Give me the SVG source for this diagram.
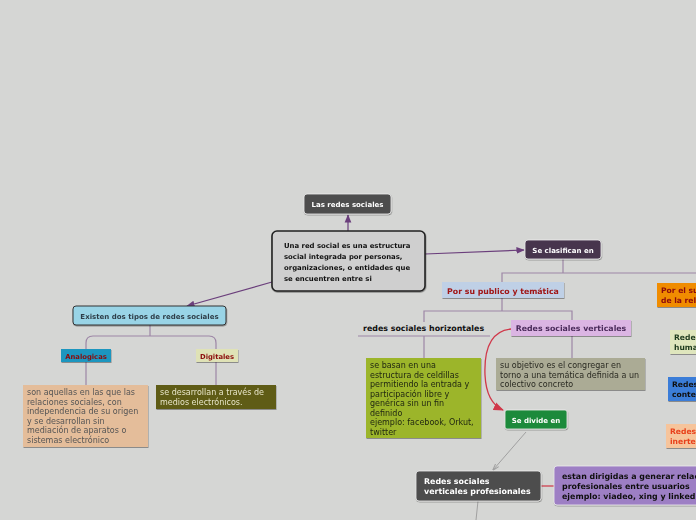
<svg xmlns="http://www.w3.org/2000/svg" width="696" height="520" viewBox="0 0 696 520">
<defs>
<style>
text{font-family:"DejaVu Sans","Liberation Sans",sans-serif}
.b{font-weight:bold}
.c{text-anchor:middle}
.d{font-size:8px}
.ln{fill:none;stroke:#9d86a6;stroke-width:1.2}
.pl{fill:none;stroke:#6b3f7c;stroke-width:1.2}
.sh{filter:url(#sh)}
</style>
<filter id="sh" x="-10%" y="-10%" width="120%" height="130%"><feDropShadow dx="0.5" dy="1" stdDeviation="0.6" flood-color="#000" flood-opacity="0.35"/></filter>
<marker id="ap" viewBox="0 0 10 10" refX="9" refY="5" markerWidth="7" markerHeight="7" orient="auto"><path d="M0,1 L10,5 L0,9 z" fill="#6b3f7c"/></marker>
<marker id="ar" viewBox="0 0 10 10" refX="9" refY="5" markerWidth="8" markerHeight="8" orient="auto"><path d="M0,1 L10,5 L0,9 z" fill="#d0384a"/></marker>
<marker id="ag" viewBox="0 0 10 10" refX="9" refY="5" markerWidth="7" markerHeight="7" orient="auto"><path d="M0,2 L10,5 L0,8" fill="none" stroke="#a0a0a0" stroke-width="1.5"/></marker>
</defs>
<rect width="696" height="520" fill="#d5d6d4"/>
<g id="connectors">
<path class="pl" d="M348,231 L348,215" marker-end="url(#ap)"/>
<path class="pl" d="M425,254 L524,250" marker-end="url(#ap)"/>
<path class="pl" d="M272,282 L187,306" marker-end="url(#ap)"/>
<path class="ln" d="M563,259 V273 M502,282 V273 H696"/>
<path class="ln" d="M150,325 V336 M86,349 V343 Q86,336 93,336 H209 Q216,336 216,343 V349"/>
<path class="ln" d="M86,362 V385 M216,362 V385"/>
<path class="ln" d="M502,298 V311 M424,322 V311 H572 V320"/>
<path class="ln" d="M424,336 V358 M572,336 V358"/>
<path d="M511,329 C490,331 484,350 485,375 C486,396 494,406 503,410" fill="none" stroke="#d0384a" stroke-width="1.3" marker-end="url(#ar)"/>
<path d="M526,432 L493,470" fill="none" stroke="#a0a0a0" stroke-width="1" marker-end="url(#ag)"/>
<path d="M541,486 H554" fill="none" stroke="#d04050" stroke-width="1.3"/>
<path d="M478,501 L476,520" fill="none" stroke="#a0a0a0" stroke-width="1"/>
</g>
<g id="n-las-redes" class="sh"><rect x="304" y="194" width="87" height="20" rx="3" fill="#4d4d4d" stroke="#eee" stroke-width="0.8"/><text x="347.5" y="207" class="b c" font-size="7" fill="#fff">Las redes sociales</text></g>
<g id="n-central" class="sh"><rect x="272" y="231" width="153" height="60" rx="5" fill="#cfcfcf" stroke="#222" stroke-width="1.6"/>
<text class="b" font-size="6.9" fill="#111"><tspan x="284" y="248">Una red social es una estructura</tspan><tspan x="284" y="259">social integrada por personas,</tspan><tspan x="284" y="270">organizaciones, o entidades que</tspan><tspan x="284" y="281">se encuentren entre si</tspan></text></g>
<g id="n-clasifican" class="sh"><rect x="525" y="240" width="76" height="19" rx="3" fill="#46344e" stroke="#eee" stroke-width="0.8"/><text x="563" y="252.5" class="b c" font-size="7" fill="#fff">Se clasifican en</text></g>
<g id="n-existen" class="sh"><rect x="73" y="306" width="153" height="19" rx="3" fill="#99d4e6" stroke="#333" stroke-width="1"/><text x="149.5" y="318.5" class="b c" font-size="7" fill="#2e3e48">Existen dos tipos de redes sociales</text></g>
<g id="n-analogicas" class="sh"><rect x="61" y="349" width="50" height="13" fill="#1a96bf"/><text x="86" y="358.5" class="b c" font-size="6.8" fill="#8b0a0a">Analogicas</text></g>
<g id="n-digitales" class="sh"><rect x="196" y="349" width="42" height="13" fill="#dfe2b6"/><text x="217" y="358.5" class="b c" font-size="6.8" fill="#8b0a0a">Digitales</text></g>
<g id="n-analog-desc" class="sh"><rect x="23" y="385" width="125" height="62" fill="#e4bd9a"/>
<text class="d" fill="#555"><tspan x="27" y="395">son aquellas en las que las</tspan><tspan x="27" y="404.5">relaciones sociales, con</tspan><tspan x="27" y="414">independencia de su origen</tspan><tspan x="27" y="423.5">y se desarrollan sin</tspan><tspan x="27" y="433">mediación de aparatos o</tspan><tspan x="27" y="442.5">sistemas electrónico</tspan></text></g>
<g id="n-digital-desc" class="sh"><rect x="156" y="385" width="120" height="24" fill="#5e5b17"/>
<text class="d" fill="#e8e6c8"><tspan x="160" y="395">se desarrollan a través  de</tspan><tspan x="160" y="404.5">medios  electrónicos.</tspan></text></g>
<g id="n-publico" class="sh"><rect x="442" y="282" width="122" height="16" fill="#bfd0e6"/><text x="503" y="293.5" class="b c" font-size="7.8" fill="#a01414">Por su publico y temática</text></g>
<g id="n-horizontales"><text x="363" y="331" class="b" font-size="7.9" fill="#111">redes sociales horizontales</text><line x1="358" y1="336" x2="490" y2="336" stroke="#9d86a6" stroke-width="1"/></g>
<g id="n-verticales" class="sh"><rect x="511" y="320" width="120" height="16" fill="#dbb5e3"/><text x="571" y="331" class="b c" font-size="7.8" fill="#4a2a5a">Redes sociales verticales</text></g>
<g id="n-horiz-desc" class="sh"><rect x="366" y="358" width="115" height="80" fill="#9cb52c"/>
<text class="d" fill="#1e2410"><tspan x="370" y="368">se basan en una</tspan><tspan x="370" y="377.5">estructura de celdillas</tspan><tspan x="370" y="387">permitiendo la entrada y</tspan><tspan x="370" y="396.5">participación libre y</tspan><tspan x="370" y="406">genérica sin un fin</tspan><tspan x="370" y="415.5">definido</tspan><tspan x="370" y="425">ejemplo: facebook, Orkut,</tspan><tspan x="370" y="434.5">twitter</tspan></text></g>
<g id="n-vert-desc" class="sh"><rect x="496" y="358" width="149" height="32" fill="#abab95"/>
<text class="d" fill="#2a2a22"><tspan x="500" y="368">su objetivo es el congregar  en</tspan><tspan x="500" y="377.5">torno a una temática definida a un</tspan><tspan x="500" y="387">colectivo concreto</tspan></text></g>
<g id="n-divide" class="sh"><rect x="505" y="410" width="62" height="19" rx="2" fill="#1e8a3a" stroke="#eee" stroke-width="0.8"/><text x="536" y="422.5" class="b c" font-size="7" fill="#fff">Se divide en</text></g>
<g id="n-profesionales" class="sh"><rect x="416" y="471" width="125" height="30" rx="3" fill="#4d4d4d" stroke="#eee" stroke-width="0.8"/>
<text class="b" font-size="7.9" fill="#fff"><tspan x="424" y="484">Redes sociales</tspan><tspan x="424" y="494">verticales profesionales</tspan></text></g>
<g id="n-prof-desc" class="sh"><rect x="554" y="466" width="150" height="39" rx="3" fill="#9d7fc4" stroke="#eee" stroke-width="0.8"/>
<text class="b" font-size="7.9" fill="#111"><tspan x="562" y="479">estan dirigidas a generar relaciones</tspan><tspan x="562" y="489">profesionales entre usuarios</tspan><tspan x="562" y="499">ejemplo: viadeo, xing y linkedin</tspan></text></g>
<g id="n-sujeto" class="sh"><rect x="657" y="283" width="50" height="24" fill="#f08c00"/>
<text class="b" font-size="7.6" fill="#8b0a0a"><tspan x="661" y="293">Por el sujeto principal</tspan><tspan x="661" y="302.5">de la relación</tspan></text></g>
<g id="n-humanas" class="sh"><rect x="670" y="330" width="40" height="24" fill="#dfe6bd"/>
<text class="b" font-size="7.6" fill="#1e3a1e"><tspan x="674" y="340">Redes</tspan><tspan x="674" y="349.5">humanas</tspan></text></g>
<g id="n-contenidos" class="sh"><rect x="668" y="377" width="40" height="24" fill="#3b7dd8"/>
<text class="b" font-size="7.6" fill="#111"><tspan x="672" y="387">Redes de</tspan><tspan x="672" y="396.5">contenidos</tspan></text></g>
<g id="n-inertes" class="sh"><rect x="666" y="424" width="40" height="24" fill="#f6c49b"/>
<text class="b" font-size="7.6" fill="#e8401a"><tspan x="670" y="434">Redes de</tspan><tspan x="670" y="443.5">inertes</tspan></text></g>
</svg>
